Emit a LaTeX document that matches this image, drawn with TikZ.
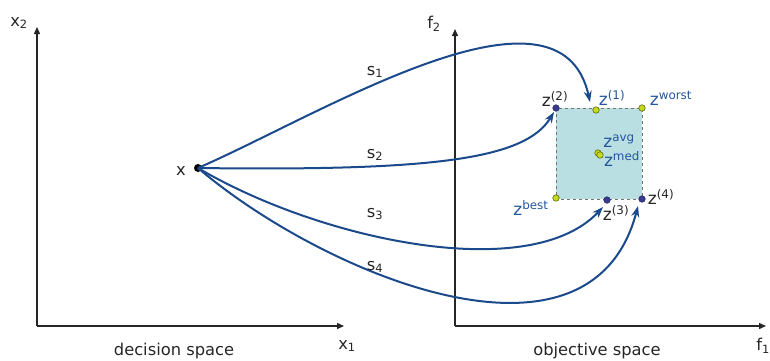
\documentclass[tikz,border=0pt]{standalone}
\usepackage{fontspec}
\setmainfont{DejaVu Sans}
\usetikzlibrary{arrows.meta}
\definecolor{cblue}{HTML}{1B4A8C}
\definecolor{tblue}{HTML}{24569A}
\definecolor{dpt}{HTML}{3A3A90}
\definecolor{ypt}{HTML}{C4DA1C}
\definecolor{boxfill}{HTML}{B9DFE3}
\tikzset{
  axis/.style={line width=1.4pt, draw=black!85, -{Triangle[length=7pt,width=6pt]}},
  lbl/.style={font=\fontsize{16.3}{18}\selectfont, text=black!85, inner sep=0pt},
  zlbl/.style={font=\fontsize{17}{19}\selectfont, inner sep=0pt},
  curve/.style={draw=cblue, line width=2pt, -{Stealth[length=11pt,width=8pt]}},
  dpoint/.style={circle, fill=dpt, draw=dpt!70!black, line width=0.6pt, minimum size=6.5pt, inner sep=0pt},
  ypoint/.style={circle, fill=ypt, draw=ypt!50!black, line width=0.6pt, minimum size=6.5pt, inner sep=0pt},
}
\begin{document}
\begin{tikzpicture}[x=1pt, y=-1pt]
\useasboundingbox (0,0) rectangle (770,360);
% left axes
\coordinate (o1) at (37,326);
\coordinate (y1) at (37,27);
\coordinate (x1e) at (344,326);
\draw[axis] (o1) -- (y1);
\draw[axis] (o1) -- (x1e);
\node[lbl] (lx2) at (19,23) {x\textsubscript{2}};
\node[lbl] (lx1) at (347,346) {x\textsubscript{1}};
\node[lbl] (dspace) at (174,351) {decision space};
% right axes
\coordinate (o2) at (455,326);
\coordinate (y2) at (455,29);
\coordinate (x2e) at (766,326);
\draw[axis] (o2) -- (y2);
\draw[axis] (o2) -- (x2e);
\node[lbl] (lf2) at (434,24) {f\textsubscript{2}};
\node[lbl] (lf1) at (763,346) {f\textsubscript{1}};
\node[lbl] (ospace) at (597,351) {objective space};
% box
\draw[fill=boxfill, draw=black!55, dashed, line width=1pt] (556,108) rectangle (642,199);
% points
\node[dpoint] (z2) at (556,108) {};
\node[ypoint] (z1) at (596,110) {};
\node[ypoint] (zw) at (642,108) {};
\node[ypoint] (zb) at (556,198) {};
\node[dpoint] (z3) at (607,200) {};
\node[dpoint] (z4) at (642,199) {};
\node[ypoint] (zavg) at (598,153) {};
\node[ypoint] (zmed) at (600,155) {};
% point labels
\node[zlbl, text=black!85] (lz2) at (555,99) {z\textsuperscript{(2)}};
\node[zlbl, text=tblue] (lz1) at (612,98) {z\textsuperscript{(1)}};
\node[zlbl, text=tblue] (lzw) at (671,98) {z\textsuperscript{worst}};
\node[zlbl, text=tblue] (lzavg) at (619,141) {z\textsuperscript{avg}};
\node[zlbl, text=tblue] (lzmed) at (622,159) {z\textsuperscript{med}};
\node[zlbl, text=tblue] (lzb) at (531,208) {z\textsuperscript{best}};
\node[zlbl, text=black!85] (lz3) at (616,213) {z\textsuperscript{(3)}};
\node[zlbl, text=black!85] (lz4) at (661,197) {z\textsuperscript{(4)}};
% x point
\node[circle, fill=black, minimum size=8pt, inner sep=0pt] (x) at (198,168) {};
\node[lbl] (lx) at (181,171) {x};
% curves
\coordinate (e1) at (590,102);
\coordinate (e2) at (554,112);
\coordinate (e3) at (603,207);
\coordinate (e4) at (638,206);
\draw[curve] (x.center) .. controls (320,115) and (560,-35) .. (e1);
\draw[curve] (x.center) .. controls (430,171) and (525,160) .. (e2);
\draw[curve] (x.center) .. controls (320,240) and (530,285) .. (e3);
\draw[curve] (x.center) .. controls (320,272) and (590,388) .. (e4);
% curve labels
\node[lbl] (s1) at (375,72) {s\textsubscript{1}};
\node[lbl] (s2) at (375,155) {s\textsubscript{2}};
\node[lbl] (s3) at (375,214) {s\textsubscript{3}};
\node[lbl] (s4) at (375,267) {s\textsubscript{4}};
\end{tikzpicture}
\end{document}
